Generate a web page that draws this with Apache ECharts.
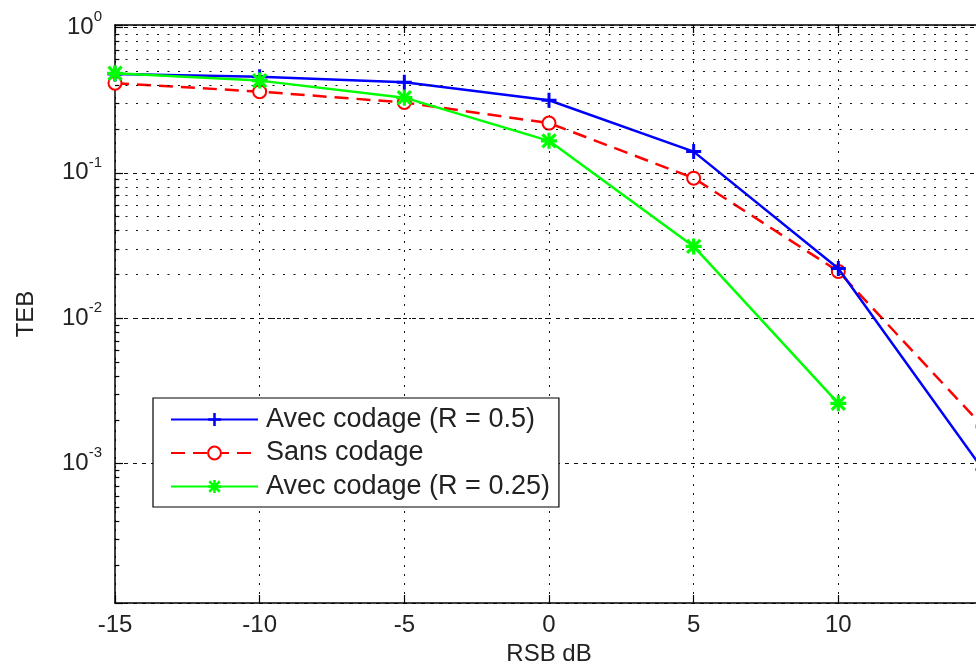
<!DOCTYPE html>
<html>
<head>
<meta charset="utf-8">
<script src="https://cdn.jsdelivr.net/npm/echarts@6/dist/echarts.min.js"></script>
<style>
  html, body { margin: 0; padding: 0; background: #fff; }
  #chart { width: 976px; height: 670px; }
</style>
</head>
<body>
<div id="chart"></div>
<script>
// Signal-to-noise ratio (dB) on the x axis
const snr = [-15, -10, -5, 0, 5, 10, 15];
const snrCoded025 = [-15, -10, -5, 0, 5, 10];

// Bit error rate (TEB) per configuration
const tebCodedR05 = [0.478, 0.459, 0.42, 0.316, 0.140, 0.022, 9.1e-4];
const tebUncoded  = [0.414, 0.362, 0.305, 0.22, 0.092, 0.021, 1.8e-3];
const tebCodedR025 = [0.484, 0.431, 0.329, 0.166, 0.0312, 0.0026];

const seriesNames = ['Avec codage (R = 0.5)', 'Sans codage', 'Avec codage (R = 0.25)'];

const xTicks = [-15, -10, -5, 0, 5, 10];
const yDecades = [1e-3, 1e-2, 1e-1, 1e0];
const yMinor = [2, 3, 4, 5, 6, 7, 8, 9];

const FONT = '"Liberation Sans", Arial, sans-serif';
const TXT = '#222';

const plusPath = 'path://M4,0H6V4H10V6H6V10H4V6H0V4H4Z';
const starPath = 'path://M4,0H6V4H10V6H6V10H4V6H0V4H4Z' +
  'M1.6,0.2L5,3.6L8.4,0.2L9.8,1.6L6.4,5L9.8,8.4L8.4,9.8L5,6.4L1.6,9.8L0.2,8.4L3.6,5L0.2,1.6Z';

function pairs(xs, ys) { return ys.map((y, i) => [xs[i], y]); }

// minor grid lines and ticks: 2..9 x 10^k inside the visible range
const minorValues = [];
[1e-4, 1e-3, 1e-2, 1e-1].forEach(d => yMinor.forEach(m => {
  const v = m * d;
  if (v > 1.1e-4 && v < 1.04) minorValues.push(v);
}));

function isDecade(v) {
  return yDecades.some(d => Math.abs(d - v) / d < 1e-6);
}

const chart = echarts.init(document.getElementById('chart'), null, { renderer: 'canvas' });
chart.setOption({
  animation: false,
  backgroundColor: '#fff',
  grid: { left: 115, top: 25, width: 868, height: 578, containLabel: false, outerBoundsMode: 'none' },
  legend: {
    orient: 'vertical',
    left: 153, top: 398,
    data: seriesNames,
    backgroundColor: '#fff',
    borderColor: '#000', borderWidth: 1.2,
    padding: [8, 9, 7, 17],
    itemWidth: 87, itemHeight: 16, itemGap: 6.5,
    textStyle: { fontFamily: FONT, fontSize: 27, color: TXT, lineHeight: 27, padding: [0, 0, 0, 3] },
    selectedMode: false
  },
  xAxis: [{
    type: 'value', min: -15, max: 15, interval: 5,
    name: 'RSB dB', nameLocation: 'middle', nameGap: 39,
    nameTextStyle: { fontFamily: FONT, fontSize: 24, color: TXT },
    axisLine: { onZero: false, lineStyle: { color: '#000', width: 1.5 } },
    axisTick: { inside: true, length: 8, lineStyle: { color: '#000', width: 1.2 } },
    axisLabel: {
      fontFamily: FONT, fontSize: 24, color: TXT, margin: 10,
      formatter: v => (xTicks.indexOf(v) >= 0) ? String(v) : ''
    },
    splitLine: { show: true, lineStyle: { color: '#111', width: 1, type: [2, 7] } }
  }, {
    type: 'value', min: -15, max: 15, interval: 5, position: 'top',
    axisLine: { onZero: false, lineStyle: { color: '#000', width: 1.5 } },
    axisTick: { inside: true, length: 8, lineStyle: { color: '#000', width: 1.2 } },
    axisLabel: { show: false },
    splitLine: { show: false }
  }],
  yAxis: {
    type: 'log', logBase: 10, min: 1.1e-4, max: 1.04,
    name: 'TEB', nameLocation: 'middle', nameGap: 77, nameRotate: 90,
    nameTextStyle: { fontFamily: FONT, fontSize: 24, color: TXT },
    axisLine: { show: true, onZero: false, lineStyle: { color: '#000', width: 1.5 } },
    axisTick: { inside: true, length: 8, lineStyle: { color: '#000', width: 1.2 } },
    minorTick: { show: false },
    minorSplitLine: { show: false },
    axisLabel: {
      margin: 13,
      formatter: v => {
        if (!isDecade(v)) return '';
        return '{b|10}{s|' + Math.round(Math.log10(v)) + '}';
      },
      rich: {
        b: { fontFamily: FONT, fontSize: 24, color: TXT, verticalAlign: 'middle', lineHeight: 36 },
        s: { fontFamily: FONT, fontSize: 15, color: TXT, verticalAlign: 'top', lineHeight: 15 }
      }
    },
    splitLine: { show: true, lineStyle: { color: '#111', width: 1, type: [4, 5] } }
  },
  series: [
    {
      // dotted minor grid lines
      name: 'grid-minor', type: 'line', data: [], z: 1, silent: true,
      markLine: {
        silent: true, symbol: 'none', label: { show: false },
        lineStyle: { color: '#111', width: 1, type: [2, 8.5] },
        data: minorValues.map(v => ({ yAxis: v }))
      }
    },
    {
      // short inward minor ticks on the left axis
      name: 'tick-minor', type: 'line', data: [], z: 2, silent: true,
      markLine: {
        silent: true, symbol: 'none', label: { show: false },
        lineStyle: { color: '#000', width: 1.2, type: 'solid' },
        data: minorValues.map(v => [{ coord: [-15, v] }, { coord: [-14.85, v] }])
      }
    },
    {
      name: seriesNames[0], type: 'line', data: pairs(snr, tebCodedR05), z: 4,
      color: '#0000ff',
      lineStyle: { color: '#0000ff', width: 2.5 },
      symbol: plusPath, symbolSize: 15,
      itemStyle: { color: '#0000ff' }
    },
    {
      name: seriesNames[1], type: 'line', data: pairs(snr, tebUncoded), z: 3,
      color: '#ff0000',
      lineStyle: { color: '#ff0000', width: 2.5, type: [14, 8] },
      symbol: 'emptyCircle', symbolSize: 13,
      itemStyle: { color: '#ff0000', borderWidth: 2.4 }
    },
    {
      name: seriesNames[2], type: 'line', data: pairs(snrCoded025, tebCodedR025), z: 5,
      color: '#00ff00',
      lineStyle: { color: '#00ff00', width: 2.5 },
      symbol: starPath, symbolSize: 16,
      itemStyle: { color: '#00ff00' }
    }
  ]
});
</script>
</body>
</html>
